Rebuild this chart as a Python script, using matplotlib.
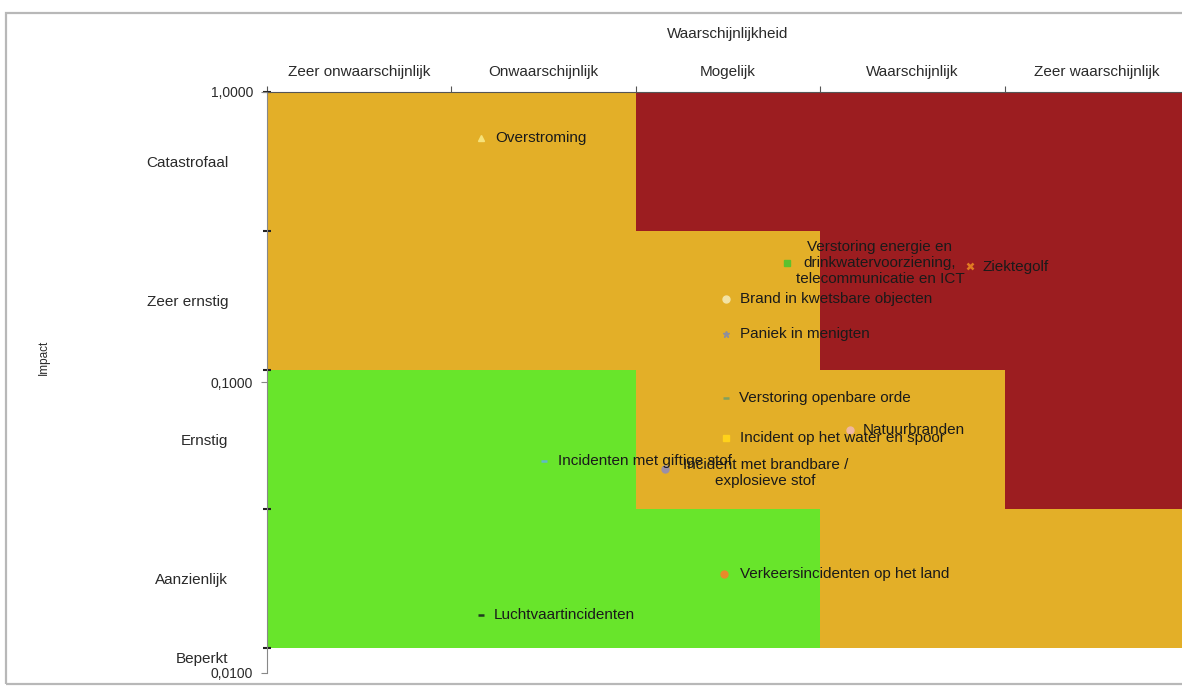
import numpy as np
import matplotlib
matplotlib.use("Agg")
import matplotlib.pyplot as plt
from matplotlib.colors import ListedColormap
from matplotlib.patches import Rectangle

plt.rcParams['font.family'] = ['Liberation Sans', 'DejaVu Sans']

# likelihood columns (top axis) and impact rows (left axis, bottom -> top)
likelihood = ['Zeer onwaarschijnlijk', 'Onwaarschijnlijk', 'Mogelijk',
              'Waarschijnlijk', 'Zeer waarschijnlijk']
impact = ['Aanzienlijk', 'Ernstig', 'Zeer ernstig', 'Catastrofaal']
impact_low = 'Beperkt'

# risk level per cell: 0 = green, 1 = orange, 2 = red (rows bottom -> top)
risk_levels = [
    [0, 0, 0, 1, 1],
    [0, 0, 1, 1, 2],
    [1, 1, 1, 2, 2],
    [1, 1, 2, 2, 2],
]
level_colors = ['#68E52B', '#E3AF28', '#9C1D20']

# scenarios: likelihood position (column units), impact value (log scale)
names = ['Overstroming',
         'Verstoring energie en\ndrinkwatervoorziening,\ntelecommunicatie en ICT',
         'Ziektegolf',
         'Brand in kwetsbare objecten',
         'Paniek in menigten',
         'Verstoring openbare orde',
         'Natuurbranden',
         'Incident op het water en spoor',
         'Incidenten met giftige stof',
         'Incident met brandbare /\nexplosieve stof',
         'Verkeersincidenten op het land',
         'Luchtvaartincidenten']
likelihood_x = [1.16, 2.82, 3.81, 2.49, 2.49, 2.49, 3.16, 2.49, 1.50, 2.16, 2.48, 1.16]
impact_y = [0.695, 0.258, 0.252, 0.194, 0.147, 0.0885, 0.0686, 0.0644,
            0.0537, 0.0504, 0.0219, 0.0158]

markers = ['^', 's', 'x', 'o', '*', '_', 'o', 's', '_', 'o', 'o', '_']
marker_colors = ['#F6E27A', '#5CC12E', '#E07B22', '#F3E3A5', '#8F8F9C', '#80A060',
                 '#F0B8A0', '#FFD21A', '#5FB9C9', '#9A8FA8', '#E88A2A', '#1F3A1F']
# label offset in pixels and alignment
label_offsets = [(14, 0), (93, 0), (13, -1), (14, 0), (14, 0), (13, 0),
                 (13, 0), (14, 0), (14, 0), (100, -4), (16, 0), (13, 0)]
label_align = ['left', 'center', 'left', 'left', 'left', 'left',
               'left', 'left', 'left', 'center', 'left', 'left']

fig = plt.figure(figsize=(11.82, 6.93), dpi=100)
fig.patches.append(Rectangle((0.005, 0.013), 1.2, 0.968, transform=fig.transFigure,
                             fill=False, edgecolor='#b8b8b8', linewidth=1.6))

ax = fig.add_axes([0.2259, 0.0289, 0.780, 0.8384])
ax.pcolormesh(np.arange(6), np.arange(5), np.array(risk_levels),
              cmap=ListedColormap(level_colors), vmin=-0.5, vmax=2.5)
ax.set_xlim(0, 5)
ax.set_ylim(-0.18, 4)

for side in ['right', 'bottom']:
    ax.spines[side].set_visible(False)
ax.spines['top'].set_color('#555555')
ax.spines['left'].set_color('#888888')

# top axis: boundaries as major ticks, names as minor tick labels
ax.xaxis.tick_top()
ax.set_xticks(np.arange(6))
ax.set_xticklabels([])
ax.set_xticks(np.arange(5) + 0.5, minor=True)
ax.set_xticklabels(likelihood, minor=True, fontsize=11, color='#2a2a2a')
ax.tick_params(axis='x', which='major', length=4, color='#555555')
ax.tick_params(axis='x', which='minor', length=0, pad=9)
ax.set_xlabel('Waarschijnlijkheid', fontsize=11, color='#2a2a2a')
ax.xaxis.set_label_position('top')
ax.xaxis.set_label_coords(0.5, 1.093)

# left axis: impact categories
ax.set_yticks(np.arange(5))
ax.set_yticklabels([])
ax.set_yticks(list(np.arange(4) + 0.5) + [-0.07], minor=True)
ax.set_yticklabels(impact + [impact_low], minor=True, fontsize=11, color='#2a2a2a')
ax.tick_params(axis='y', which='major', length=6, direction='inout', color='#222222', width=1.5)
ax.tick_params(axis='y', which='minor', length=0, pad=28)
ax.set_ylabel('Impact', fontsize=8.5, color='#2a2a2a')
ax.yaxis.set_label_coords(-0.235, 0.544)

# numeric log impact axis sharing the same area
ax2 = ax.twinx()
ax2.set_yscale('log')
ax2.set_ylim(0.01, 1)
ax2.yaxis.set_ticks_position('left')
ax2.set_yticks([0.01, 0.1, 1])
ax2.set_yticklabels(['0,0100', '0,1000', '1,0000'], fontsize=10, color='#2a2a2a')
ax2.yaxis.set_minor_locator(matplotlib.ticker.NullLocator())
ax2.tick_params(axis='y', length=4, color='#888888', pad=6)
for side in ['right', 'bottom', 'top', 'left']:
    ax2.spines[side].set_visible(False)

for i in range(len(names)):
    ax2.plot(likelihood_x[i], impact_y[i], linestyle='none', marker=markers[i],
             color=marker_colors[i], markersize=5, markeredgewidth=1.8 if markers[i] in 'x_' else 1)
    ax2.annotate(names[i], (likelihood_x[i], impact_y[i]), xytext=label_offsets[i],
                 textcoords='offset pixels', ha=label_align[i], va='center',
                 multialignment='center', fontsize=11, color='#1a1a1a',
                 linespacing=1.2)

fig.savefig('out.png', dpi=100)
